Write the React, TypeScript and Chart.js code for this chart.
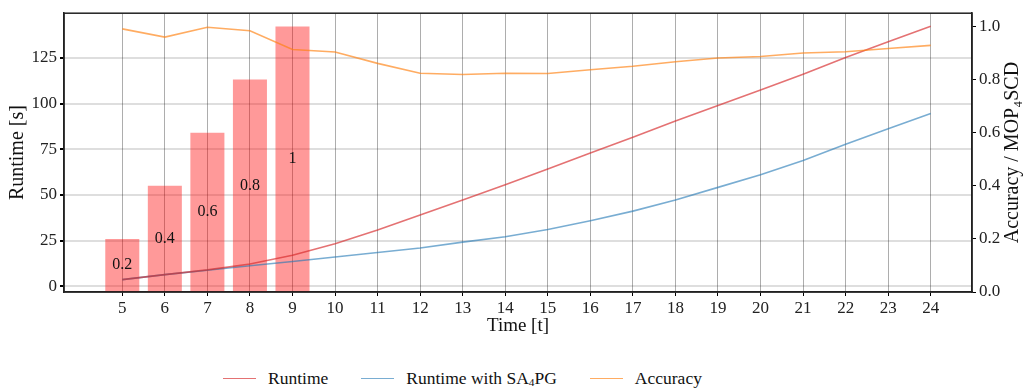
import React, { useEffect, useRef } from "react";
import { Chart, registerables } from "chart.js";

Chart.register(...registerables);

const timeSteps = [5, 6, 7, 8, 9, 10, 11, 12, 13, 14, 15, 16, 17, 18, 19, 20, 21, 22, 23, 24];
const runtime = [3.6, 6.3, 8.9, 12.1, 16.9, 23.2, 30.7, 39.0, 47.2, 55.5, 64.2, 72.9, 81.5, 90.4, 98.9, 107.4, 116.1, 125.2, 133.9, 142.4];
const runtimeSA4PG = [3.6, 6.3, 8.7, 11.2, 13.5, 16.0, 18.4, 20.9, 24.1, 27.1, 31.0, 35.8, 41.1, 47.2, 54.1, 61.0, 68.8, 77.7, 86.2, 94.5];
const accuracy = [0.991, 0.96, 0.997, 0.984, 0.913, 0.904, 0.861, 0.824, 0.819, 0.824, 0.823, 0.837, 0.85, 0.867, 0.881, 0.887, 0.9, 0.905, 0.917, 0.929];
const barSteps = [5, 6, 7, 8, 9];
const mopValues = [0.2, 0.4, 0.6, 0.8, 1.0];
const mopLabels = ["0.2", "0.4", "0.6", "0.8", "1"];
const xTicks = [5, 6, 7, 8, 9, 10, 11, 12, 13, 14, 15, 16, 17, 18, 19, 20, 21, 22, 23, 24];
const leftTicks = [0, 25, 50, 75, 100, 125];
const rightTicks = [0, 0.2, 0.4, 0.6, 0.8, 1.0];
const rightTitle = "Accuracy / MOP\u2084SCD";

const FONT = "'Liberation Serif', 'Times New Roman', serif";
const RED = "rgba(214,39,40,0.65)";
const BLUE = "rgba(31,119,180,0.6)";
const ORANGE = "rgba(255,127,14,0.65)";

const framePlugin = {
  id: "frame",
  afterDraw(chart: any) {
    const { ctx, chartArea } = chart;
    ctx.save();
    ctx.strokeStyle = "#222";
    ctx.lineWidth = 1.5;
    ctx.strokeRect(chartArea.left, chartArea.top, chartArea.right - chartArea.left, chartArea.bottom - chartArea.top);
    // right axis title, reading bottom-to-top
    ctx.font = `20px ${FONT}`;
    ctx.fillStyle = "#111";
    ctx.textAlign = "center";
    ctx.textBaseline = "middle";
    ctx.translate(chartArea.right + 41, (chartArea.top + chartArea.bottom) / 2);
    ctx.rotate(-Math.PI / 2);
    ctx.fillText(rightTitle, 0, 0);
    ctx.restore();
  },
};

const barLabelPlugin = {
  id: "barLabels",
  afterDatasetsDraw(chart: any) {
    const { ctx } = chart;
    const meta = chart.getDatasetMeta(0);
    ctx.save();
    ctx.font = `16px ${FONT}`;
    ctx.fillStyle = "#111";
    ctx.textAlign = "center";
    ctx.textBaseline = "middle";
    meta.data.forEach((el: any, i: number) => {
      ctx.fillText(mopLabels[i], el.x, (el.y + el.base) / 2);
    });
    ctx.restore();
  },
};

export default function App() {
  const ref = useRef<HTMLCanvasElement | null>(null);

  useEffect(() => {
    if (!ref.current) return;
    const chart = new Chart(ref.current, {
      data: {
        datasets: [
          {
            type: "bar",
            label: "MOP4SCD",
            data: barSteps.map((x, i) => ({ x, y: mopValues[i] })),
            yAxisID: "y2",
            backgroundColor: "rgba(255,0,0,0.4)",
            borderWidth: 0,
            barPercentage: 0.8,
            categoryPercentage: 1,
            order: 10,
          },
          {
            type: "line",
            label: "Runtime",
            data: timeSteps.map((x, i) => ({ x, y: runtime[i] })),
            yAxisID: "y",
            borderColor: RED,
            borderWidth: 1.6,
            pointRadius: 0,
            tension: 0,
            order: 1,
          },
          {
            type: "line",
            label: "Runtime with SA4PG",
            data: timeSteps.map((x, i) => ({ x, y: runtimeSA4PG[i] })),
            yAxisID: "y",
            borderColor: BLUE,
            borderWidth: 1.6,
            pointRadius: 0,
            tension: 0,
            order: 2,
          },
          {
            type: "line",
            label: "Accuracy",
            data: timeSteps.map((x, i) => ({ x, y: accuracy[i] })),
            yAxisID: "y2",
            borderColor: ORANGE,
            borderWidth: 1.6,
            pointRadius: 0,
            tension: 0,
            order: 0,
          },
        ],
      } as any,
      options: {
        animation: false,
        responsive: false,
        maintainAspectRatio: false,
        layout: { padding: { top: 5, left: 0, right: 0, bottom: 29 } },
        plugins: { legend: { display: false }, tooltip: { enabled: false } },
        scales: {
          x: {
            type: "linear",
            offset: false,
            min: 3.63,
            max: 24.97,
            afterBuildTicks: (axis: any) => {
              axis.ticks = xTicks.map((v) => ({ value: v }));
            },
            afterFit: (scale: any) => {
              scale.height = 45;
            },
            grid: { offset: false, color: "rgba(0,0,0,0.32)", lineWidth: 1, tickLength: 4, tickColor: "#000", drawOnChartArea: true },
            border: { display: true, color: "#222", width: 1.5 },
            ticks: { font: { family: FONT, size: 17 }, color: "#222", padding: 2, callback: (v: any) => String(v), maxRotation: 0, autoSkip: false },
            title: { display: true, text: "Time [t]", font: { family: FONT, size: 19 }, color: "#111", padding: { top: 0, bottom: 0 } },
          },
          y: {
            type: "linear",
            position: "left",
            min: -3.2,
            max: 149.5,
            afterBuildTicks: (axis: any) => {
              axis.ticks = leftTicks.map((v) => ({ value: v }));
            },
            afterFit: (scale: any) => {
              scale.width = 64;
            },
            grid: { color: "rgba(0,0,0,0.13)", lineWidth: 2, tickLength: 4, tickColor: "#000" },
            border: { display: true, color: "#222", width: 1.5 },
            ticks: { font: { family: FONT, size: 17 }, color: "#222", padding: 3 },
            title: { display: true, text: "Runtime [s]", font: { family: FONT, size: 20 }, color: "#111", padding: { top: 6, bottom: 4 } },
          },
          y2: {
            type: "linear",
            position: "right",
            min: 0,
            max: 1.05,
            afterBuildTicks: (axis: any) => {
              axis.ticks = rightTicks.map((v) => ({ value: v }));
            },
            afterFit: (scale: any) => {
              scale.width = 54;
            },
            grid: { drawOnChartArea: false, tickLength: 4, tickColor: "#000" },
            border: { display: true, color: "#222", width: 1.5 },
            ticks: { font: { family: FONT, size: 17 }, color: "#222", padding: 3, callback: (v: any) => Number(v).toFixed(1) },
            title: { display: false },
          },
        },
      } as any,
      plugins: [framePlugin, barLabelPlugin],
    });
    return () => chart.destroy();
  }, []);

  const lineSample = (color: string) => (
    <span style={{ display: "inline-block", width: 33, height: 0, borderTop: `1.6px solid ${color}`, marginRight: 12, verticalAlign: "middle" }} />
  );

  return (
    <div style={{ position: "absolute", left: 0, top: 0, width: 1026, height: 390, background: "#fff", fontFamily: FONT }}>
      <canvas ref={ref} width={1026} height={366} style={{ display: "block", width: 1026, height: 366 }} />
      <div style={{ display: "flex", alignItems: "center", height: 24, paddingLeft: 223, fontSize: 17.5, color: "#111", whiteSpace: "nowrap" }}>
        <span style={{ display: "flex", alignItems: "center", marginRight: 33 }}>
          {lineSample(RED)}
          <span>Runtime</span>
        </span>
        <span style={{ display: "flex", alignItems: "center", marginRight: 33 }}>
          {lineSample(BLUE)}
          <span>
            Runtime with SA<sub style={{ fontSize: "0.65em", verticalAlign: "-0.2em", lineHeight: 0 }}>4</sub>PG
          </span>
        </span>
        <span style={{ display: "flex", alignItems: "center" }}>
          {lineSample(ORANGE)}
          <span>Accuracy</span>
        </span>
      </div>
    </div>
  );
}
